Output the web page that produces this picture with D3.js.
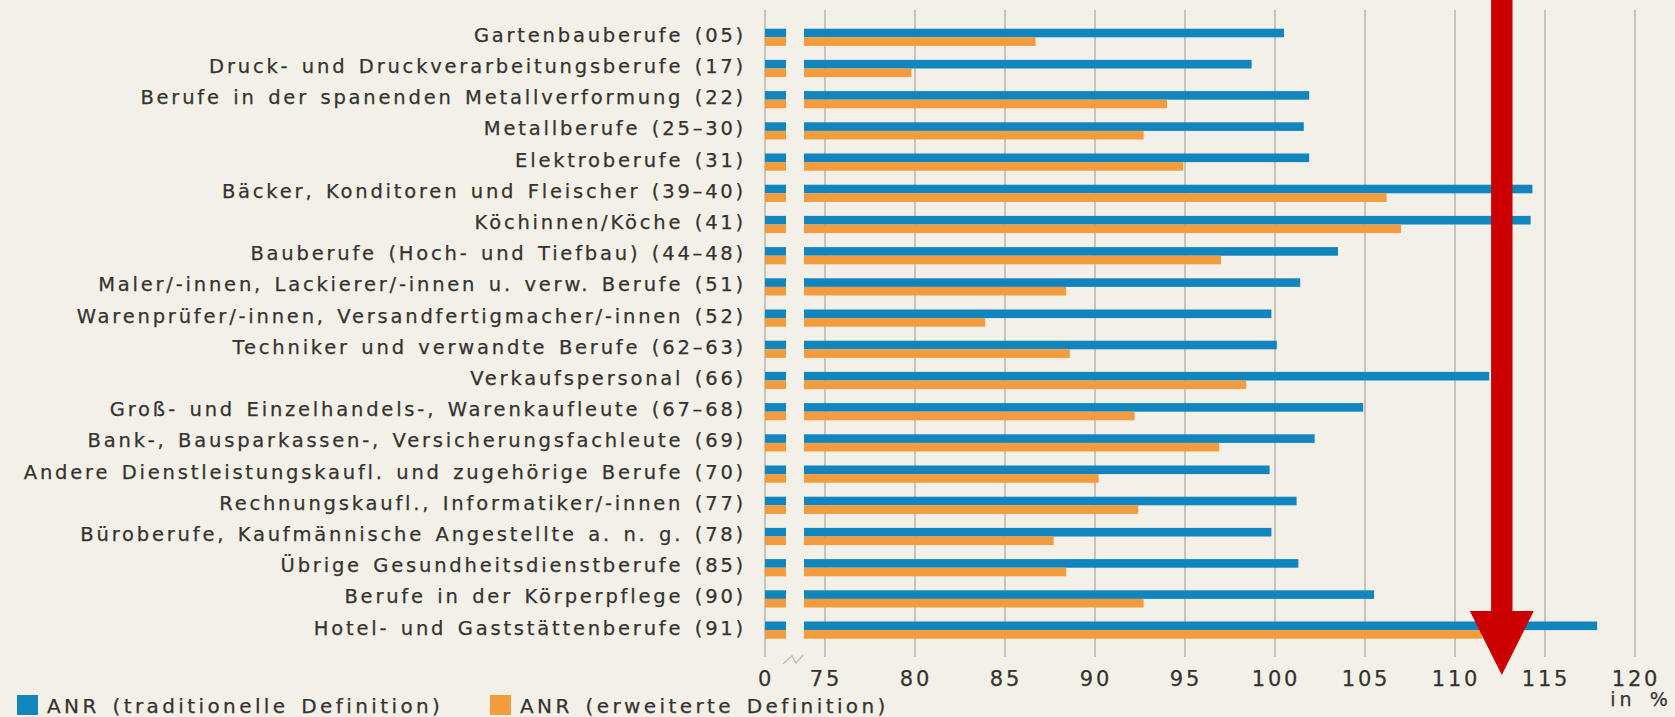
<!DOCTYPE html>
<html lang="de">
<head>
<meta charset="UTF-8">
<script src="https://cdn.jsdelivr.net/npm/d3@7/dist/d3.min.js"></script>
<title>ANR nach Berufen</title>
<style>
    :root {
        --background: #f3f0e8;
        --primary: #333330;
    }
    html, body {
        margin: 0;
        padding: 0;
        background-color: var(--background);
    }
    svg {
        display: block;
        font-family: "DejaVu Sans", sans-serif;
    }
    .txt {
        fill: var(--primary);
        stroke: var(--primary);
        stroke-width: 0.25px;
    }
</style>
</head>
<body>
<svg id="chart"></svg>
<script>
    const categories = [
        "Gartenbauberufe (05)",
        "Druck- und Druckverarbeitungsberufe (17)",
        "Berufe in der spanenden Metallverformung (22)",
        "Metallberufe (25–30)",
        "Elektroberufe (31)",
        "Bäcker, Konditoren und Fleischer (39–40)",
        "Köchinnen/Köche (41)",
        "Bauberufe (Hoch- und Tiefbau) (44–48)",
        "Maler/-innen, Lackierer/-innen u. verw. Berufe (51)",
        "Warenprüfer/-innen, Versandfertigmacher/-innen (52)",
        "Techniker und verwandte Berufe (62–63)",
        "Verkaufspersonal (66)",
        "Groß- und Einzelhandels-, Warenkaufleute (67–68)",
        "Bank-, Bausparkassen-, Versicherungsfachleute (69)",
        "Andere Dienstleistungskaufl. und zugehörige Berufe (70)",
        "Rechnungskaufl., Informatiker/-innen (77)",
        "Büroberufe, Kaufmännische Angestellte a. n. g. (78)",
        "Übrige Gesundheitsdienstberufe (85)",
        "Berufe in der Körperpflege (90)",
        "Hotel- und Gaststättenberufe (91)"
    ];

    const traditionell = [100.5, 98.7, 101.9, 101.6, 101.9, 114.3, 114.2, 103.5, 101.4, 99.8,
                          100.1, 111.9, 104.9, 102.2, 99.7, 101.2, 99.8, 101.3, 105.5, 117.9];
    const erweitert = [86.7, 79.8, 94.0, 92.7, 94.9, 106.2, 107.0, 97.0, 88.4, 83.9,
                       88.6, 98.4, 92.2, 96.9, 90.2, 92.4, 87.7, 88.4, 92.7, 111.5];

    const seriesNames = ["ANR (traditionelle Definition)", "ANR (erweiterte Definition)"];
    const seriesColors = ["#1185bd", "#f39c3e"];

    const tickValues = [75, 80, 85, 90, 95, 100, 105, 110, 115, 120];
    const axisUnit = "in %";
    const arrowValue = 112.6;

    const width = 1675;
    const height = 717;

    const svg = d3.select("#chart")
        .attr("width", width)
        .attr("height", height)
        .attr("viewBox", [0, 0, width, height]);

    // broken axis: a short stub from 0, then the real scale from ~74
    const zeroX = 765;
    const stubEnd = 786;
    const x = d3.scaleLinear().domain([75, 120]).range([825, 1635]);
    const barStart = x.invert(804);

    const y = d3.scaleBand()
        .domain(categories)
        .range([21.7, 645.7]);

    const barH = 8.6;
    const gridTop = 10;
    const gridBottom = 657;

    // grid lines
    const grid = svg.append("g")
        .attr("stroke", "#bcb9b1")
        .attr("stroke-width", 1.6);

    grid.append("line")
        .attr("x1", zeroX).attr("x2", zeroX)
        .attr("y1", gridTop).attr("y2", gridBottom);

    grid.selectAll("line.tick")
        .data(tickValues)
        .join("line")
        .attr("class", "tick")
        .attr("x1", d => x(d)).attr("x2", d => x(d))
        .attr("y1", gridTop).attr("y2", gridBottom);

    // break mark
    const bx = (stubEnd + 804) / 2;
    svg.append("path")
        .attr("d", `M${bx - 12},${gridBottom + 7} L${bx - 3},${gridBottom - 1} L${bx + 1},${gridBottom + 6} L${bx + 8},${gridBottom - 2}`)
        .attr("fill", "none")
        .attr("stroke", "#c4c1b9")
        .attr("stroke-width", 1.5);

    // bars
    const rows = categories.map((c, i) => ({cat: c, values: [traditionell[i], erweitert[i]]}));

    const row = svg.append("g")
        .selectAll("g")
        .data(rows)
        .join("g")
        .attr("transform", d => `translate(0,${y(d.cat) + y.bandwidth() / 2})`);

    [0, 1].forEach(s => {
        const offset = s === 0 ? -barH : 0;
        row.append("rect")
            .attr("x", zeroX)
            .attr("y", offset)
            .attr("width", stubEnd - zeroX)
            .attr("height", barH)
            .attr("fill", seriesColors[s]);

        row.append("rect")
            .attr("x", x(barStart))
            .attr("y", offset)
            .attr("width", d => x(d.values[s]) - x(barStart))
            .attr("height", barH)
            .attr("fill", seriesColors[s]);
    });

    // category labels
    row.append("text")
        .attr("class", "txt")
        .attr("x", 746)
        .attr("y", -1)
        .attr("text-anchor", "end")
        .attr("dominant-baseline", "middle")
        .attr("font-size", 19.5)
        .attr("letter-spacing", 2.8)
        .attr("word-spacing", 2.5)
        .text(d => d.cat);

    // tick labels
    const tickText = svg.append("g")
        .attr("class", "txt")
        .attr("font-size", 21)
        .attr("letter-spacing", 2.8)
        .attr("text-anchor", "middle");

    tickText.append("text")
        .attr("x", zeroX + 1)
        .attr("y", 686)
        .text("0");

    tickText.selectAll("text.tv")
        .data(tickValues)
        .join("text")
        .attr("class", "tv")
        .attr("x", d => x(d) + 1)
        .attr("y", 686)
        .text(d => d);

    tickText.append("text")
        .attr("x", x(120) + 6)
        .attr("y", 706)
        .attr("font-size", 19)
        .attr("letter-spacing", 4)
        .attr("word-spacing", 4)
        .text(axisUnit);

    // red arrow
    const ax = x(arrowValue);
    svg.append("path")
        .attr("d", `M${ax - 10.7},0 L${ax + 10.7},0 L${ax + 10.7},611 L${ax + 32},611 L${ax},675 L${ax - 32},611 L${ax - 10.7},611 Z`)
        .attr("fill", "#cc0000");

    // legend
    const legendX = [17, 490];
    const legend = svg.append("g")
        .selectAll("g")
        .data(seriesNames)
        .join("g")
        .attr("transform", (d, i) => `translate(${legendX[i]},695)`);

    legend.append("rect")
        .attr("width", 21)
        .attr("height", 20)
        .attr("fill", (d, i) => seriesColors[i]);

    legend.append("text")
        .attr("class", "txt")
        .attr("x", 30)
        .attr("y", 18)
        .attr("font-size", 20)
        .attr("letter-spacing", 3.4)
        .attr("word-spacing", 3)
        .text(d => d);
</script>
</body>
</html>
